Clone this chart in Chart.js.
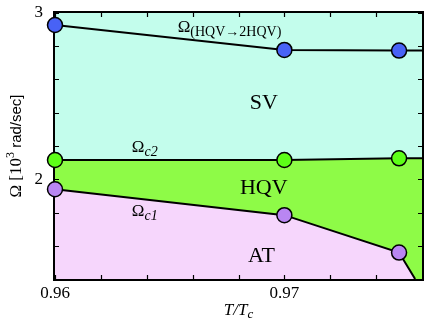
<!DOCTYPE html>
<html>
<head>
  <title>Phase diagram</title>
  <script src="https://cdn.jsdelivr.net/npm/chart.js"></script>
  <style>
    body { margin: 0; background: #fff; }
    #wrap { width: 436px; height: 326px; }
  </style>
</head>
<body>
  <div id="wrap"><canvas id="phaseChart"></canvas></div>

  <script>
    // T/Tc positions of each boundary (last entry = where the line leaves the frame)
    const tVortex = [0.96, 0.97, 0.975, 0.976];
    const omegaVortex = [2.928, 2.778, 2.774, 2.774];   // Omega(HQV->2HQV)
    const tC2 = [0.96, 0.97, 0.975, 0.976];
    const omegaC2 = [2.116, 2.116, 2.126, 2.127];        // Omega_c2
    const tC1 = [0.96, 0.97, 0.975, 0.9757];
    const omegaC1 = [1.94, 1.784, 1.559, 1.40];          // Omega_c1
    const showMarker = [true, true, true, false];

    const xTickValues = [0.96, 0.97];
    const xTickLabels = ['0.96', '0.97'];
    const yTickValues = [2, 3];
    const yTickLabels = ['2', '3'];
    const xMinorTicks = [0.962, 0.964, 0.966, 0.968, 0.972, 0.974];
    const yMinorTicks = [1.6, 1.8, 2.2, 2.4, 2.6, 2.8];

    const SERIF = '"Liberation Serif", "DejaVu Serif", serif';
    const SANS = '"Liberation Sans", Arial, sans-serif';

    function pts(xs, ys) {
      return xs.map((x, i) => ({ x: x, y: ys[i] }));
    }

    const radius = showMarker.map(s => s ? 7.5 : 0);

    // background + frame (drawn under the fills' edges and markers)
    const framePlugin = {
      id: 'frame',
      beforeDatasetsDraw(chart) {
        const { ctx, chartArea: a } = chart;
        ctx.save();
        ctx.fillStyle = '#c3fdec';
        ctx.fillRect(a.left, a.top, a.right - a.left, a.bottom - a.top);
        ctx.strokeStyle = '#000';
        ctx.lineWidth = 2;
        ctx.strokeRect(a.left - 1, a.top - 1, a.right - a.left + 2, a.bottom - a.top + 2);
        ctx.restore();
      }
    };

    // inward ticks on all four sides, plus the text labels
    const decorPlugin = {
      id: 'decor',
      afterDatasetsDraw(chart) {
        const { ctx, chartArea: a, scales } = chart;
        const sx = scales.x, sy = scales.y;
        ctx.save();
        ctx.strokeStyle = '#000';
        ctx.lineWidth = 1.2;
        ctx.beginPath();
        xTickValues.concat(xMinorTicks).forEach(v => {
          const px = Math.round(sx.getPixelForValue(v)) + 0.5;
          ctx.moveTo(px, a.bottom); ctx.lineTo(px, a.bottom - 4);
          ctx.moveTo(px, a.top); ctx.lineTo(px, a.top + 4);
        });
        yTickValues.concat(yMinorTicks).forEach(v => {
          const py = Math.round(sy.getPixelForValue(v)) + 0.5;
          ctx.moveTo(a.left, py); ctx.lineTo(a.left + 4, py);
          ctx.moveTo(a.right, py); ctx.lineTo(a.right - 4, py);
        });
        ctx.stroke();

        ctx.fillStyle = '#000';
        ctx.textBaseline = 'alphabetic';

        // Omega with a subscript, anchored in data coordinates
        function omega(xv, yv, sub, italic, subSize) {
          const x = sx.getPixelForValue(xv), y = sy.getPixelForValue(yv);
          ctx.textAlign = 'left';
          ctx.font = '17px ' + SERIF;
          ctx.fillText('\u03A9', x, y);
          const w = ctx.measureText('\u03A9').width;
          ctx.font = (italic ? 'italic ' : '') + subSize + 'px ' + SERIF;
          ctx.fillText(sub, x + w, y + 4);
        }
        omega(0.96535, 2.886, '(HQV\u21922HQV)', false, 14);
        omega(0.96335, 2.162, 'c2', true, 14);
        omega(0.96335, 1.778, 'c1', true, 14);

        ctx.font = '22px ' + SERIF;
        ctx.textAlign = 'center';
        ctx.fillText('SV', sx.getPixelForValue(0.9691), sy.getPixelForValue(2.42));
        ctx.fillText('HQV', sx.getPixelForValue(0.9691), sy.getPixelForValue(1.91));
        ctx.fillText('AT', sx.getPixelForValue(0.9690), sy.getPixelForValue(1.503));

        // x axis title: T/Tc
        const cx = (a.left + a.right) / 2;
        ctx.font = 'italic 17px ' + SERIF;
        const w1 = ctx.measureText('T/T').width;
        ctx.font = 'italic 13px ' + SERIF;
        const w2 = ctx.measureText('c').width;
        const x0 = cx - (w1 + w2) / 2;
        ctx.textAlign = 'left';
        ctx.font = 'italic 17px ' + SERIF;
        ctx.fillText('T/T', x0, 315);
        ctx.font = 'italic 13px ' + SERIF;
        ctx.fillText('c', x0 + w1, 318);

        // y axis title: Omega [10^3 rad/sec], rotated
        const parts = [
          ['\u03A9 [10', '17px ' + SERIF, 0],
          ['3', '12px ' + SERIF, -7],
          [' rad/sec]', '15px ' + SANS, 0]
        ];
        let total = 0;
        parts.forEach(p => { ctx.font = p[1]; total += ctx.measureText(p[0]).width; });
        const cy = (a.top + a.bottom) / 2;
        ctx.translate(21, cy + total / 2);
        ctx.rotate(-Math.PI / 2);
        let off = 0;
        parts.forEach(p => {
          ctx.font = p[1];
          ctx.fillText(p[0], off, p[2]);
          off += ctx.measureText(p[0]).width;
        });
        ctx.restore();
      }
    };

    new Chart(document.getElementById('phaseChart'), {
      type: 'line',
      data: {
        datasets: [
          {
            label: 'Omega_c1',
            data: pts(tC1, omegaC1),
            borderColor: '#000',
            borderWidth: 2,
            backgroundColor: '#f6d6fc',
            fill: 'start',
            pointRadius: radius,
            pointBackgroundColor: '#b986f2',
            pointBorderColor: '#000',
            pointBorderWidth: 1.5,
            tension: 0,
            clip: false
          },
          {
            label: 'Omega_c2',
            data: pts(tC2, omegaC2),
            borderColor: '#000',
            borderWidth: 2,
            backgroundColor: '#8efb47',
            fill: 'start',
            pointRadius: radius,
            pointBackgroundColor: '#5dff17',
            pointBorderColor: '#000',
            pointBorderWidth: 1.5,
            tension: 0,
            clip: false
          },
          {
            label: 'Omega_HQV_2HQV',
            data: pts(tVortex, omegaVortex),
            borderColor: '#000',
            borderWidth: 2,
            fill: false,
            pointRadius: radius,
            pointBackgroundColor: '#4862f6',
            pointBorderColor: '#000',
            pointBorderWidth: 1.5,
            tension: 0,
            clip: false
          }
        ]
      },
      options: {
        responsive: true,
        maintainAspectRatio: false,
        animation: false,
        layout: { padding: { top: 13, right: 14, left: 0, bottom: 0 } },
        plugins: {
          legend: { display: false },
          tooltip: { enabled: false }
        },
        scales: {
          x: {
            type: 'linear',
            min: 0.96,
            max: 0.976,
            afterBuildTicks: s => { s.ticks = xTickValues.map(v => ({ value: v })); },
            afterFit: s => { s.height = 47; s.paddingLeft = 0; s.paddingRight = 0; },
            ticks: {
              callback: (v, i) => xTickLabels[i],
              font: { family: SERIF, size: 17 },
              color: '#000',
              padding: 4,
              maxRotation: 0,
              autoSkip: false
            },
            grid: { display: false, drawTicks: false },
            border: { display: false }
          },
          y: {
            type: 'linear',
            min: 1.4,
            max: 3,
            afterBuildTicks: s => { s.ticks = yTickValues.map(v => ({ value: v })); },
            afterFit: s => { s.width = 55; s.paddingTop = 0; s.paddingBottom = 0; },
            ticks: {
              callback: (v, i) => yTickLabels[i],
              font: { family: SERIF, size: 17 },
              color: '#000',
              padding: 12
            },
            grid: { display: false, drawTicks: false },
            border: { display: false }
          }
        }
      },
      plugins: [framePlugin, decorPlugin]
    });
  </script>
</body>
</html>
